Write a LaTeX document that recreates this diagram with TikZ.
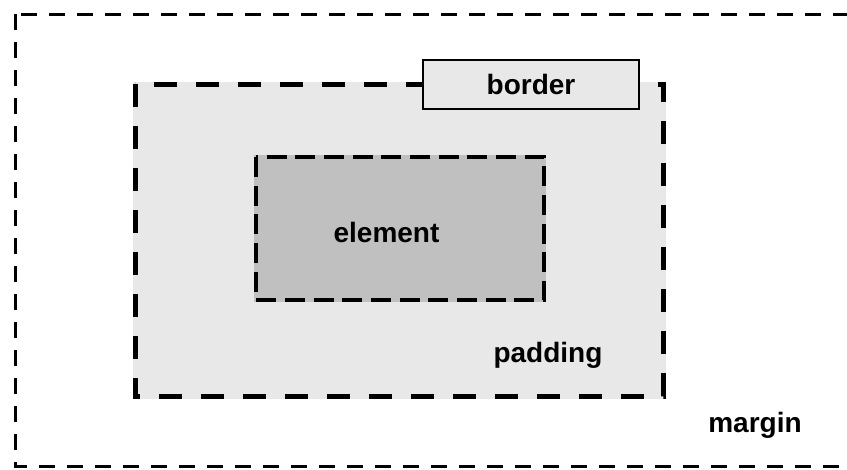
\documentclass[tikz,border=0pt]{standalone}
\usepackage{fontspec}
\setmainfont{Liberation Sans}
\usetikzlibrary{positioning}
\definecolor{padgray}{HTML}{E8E8E8}
\definecolor{elemgray}{HTML}{C0C0C0}
\tikzset{
  marginline/.style={draw, line width=2.25pt, dash pattern=on 12pt off 9pt},
  paddingline/.style={draw, line width=3.75pt, dash pattern=on 17.5pt off 14pt},
  elementline/.style={draw, line width=3pt, dash pattern=on 15pt off 6.5pt},
  tagbox/.style={draw, line width=0.8pt, fill=padgray, inner sep=0pt,
    minimum width=162pt, minimum height=36.75pt},
  boxtext/.style={font=\bfseries\fontsize{21}{25}\selectfont, inner sep=0pt}
}
\begin{document}
\begin{tikzpicture}[x=0.75pt, y=-0.75pt]
  \useasboundingbox (0,0) rectangle (847,469);
  \clip (0,0) rectangle (847,469);
  % margin
  \draw[marginline] (15,14) rectangle (890,466);
  % padding
  \fill[padgray] (133,82) rectangle (666,399);
  \draw[paddingline] (135,84) rectangle (663,396);
  % element
  \fill[elemgray] (254,155) rectangle (546,302);
  \draw[elementline] (256,157) rectangle (544,300);
  \node[boxtext] (element) at (386.5,232.5) {element};
  \node[tagbox, boxtext] (border) at (531,84.5) {border};
  \node[boxtext] (padding) at (548,355) {padding};
  \node[boxtext, anchor=base] (margin) at (755,432) {margin};
\end{tikzpicture}
\end{document}
